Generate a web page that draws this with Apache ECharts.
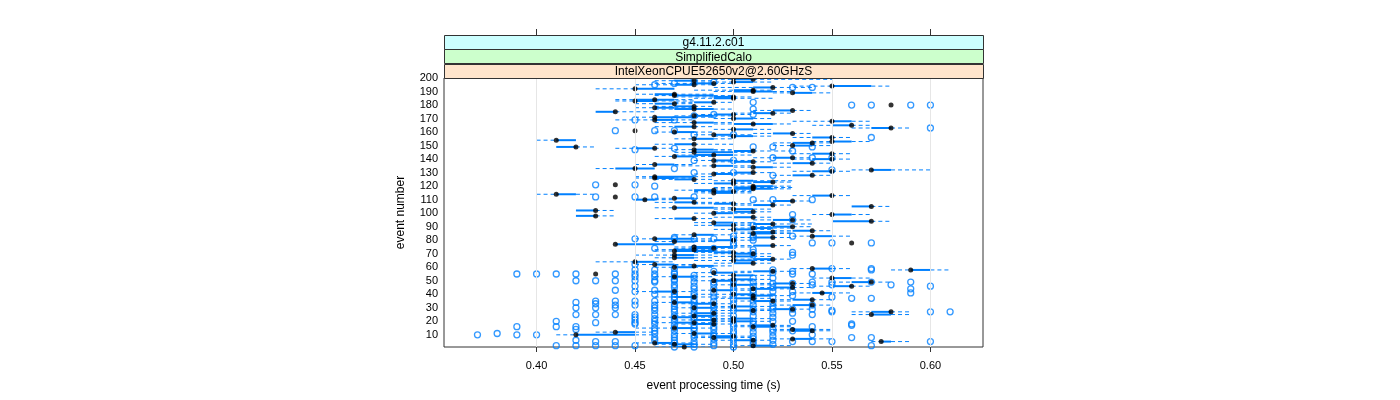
<!DOCTYPE html>
<html><head><meta charset="utf-8">
<script src="https://cdn.jsdelivr.net/npm/echarts@6/dist/echarts.min.js"></script>
<style>html,body{margin:0;padding:0;background:#fff}#c{width:1400px;height:400px}</style>
</head><body><div id="c"></div><script>
// event number = index + 1 (events 1..200)
const medians=[
.475,.51,.47,.46,.575,.51,.53,.49,.50,.42,
.48,.44,.54,.53,.47,.51,.52,.49,.48,.50,
.49,.50,.47,.48,.57,.49,.58,.51,.53,.48,
.50,.54,.49,.47,.52,.54,.51,.48,.51,.50,
.545,.47,.49,.51,.53,.56,.50,.53,.57,.49,
.50,.55,.47,.50,.43,.49,.52,.59,.54,.47,
.48,.46,.51,.45,.50,.52,.47,.50,.47,.51,
.50,.47,.48,.49,.48,.52,.44,.56,.47,.50,
.46,.52,.54,.48,.51,.52,.54,.50,.51,.53,
.50,.52,.49,.57,.53,.48,.51,.43,.55,.49,
.51,.43,.50,.47,.57,.52,.50,.48,.53,.455,
.47,.44,.55,.41,.49,.50,.49,.51,.51,.51,
.44,.50,.52,.50,.48,.46,.46,.54,.49,.51,
.55,.57,.45,.51,.49,.46,.54,.51,.49,.55,
.53,.47,.49,.55,.48,.51,.48,.46,.42,.53,
.48,.54,.55,.41,.48,.55,.50,.49,.53,.47,
.45,.50,.58,.48,.56,.51,.48,.55,.46,.50,
.46,.48,.50,.52,.44,.53,.48,.46,.48,.58,
.47,.49,.45,.46,.50,.50,.47,.47,.53,.51,
.51,.45,.52,.55,.48,.49,.50,.48,.51,.50];
const lowerQuartile=[
.47,.51,.47,.46,.575,.50,.53,.49,.49,.42,
.48,.44,.53,.53,.47,.51,.51,.48,.47,.50,
.48,.50,.47,.48,.57,.48,.57,.50,.52,.48,
.50,.53,.48,.47,.51,.53,.50,.47,.51,.50,
.54,.46,.49,.51,.52,.55,.50,.52,.56,.49,
.50,.55,.47,.50,.43,.49,.51,.59,.54,.47,
.48,.46,.50,.45,.50,.51,.47,.50,.47,.50,
.49,.47,.47,.48,.48,.51,.44,.56,.47,.49,
.46,.51,.54,.48,.51,.51,.53,.50,.51,.52,
.49,.51,.49,.55,.52,.47,.50,.42,.55,.49,
.50,.42,.50,.47,.56,.51,.49,.47,.52,.45,
.47,.44,.54,.41,.49,.49,.48,.50,.50,.51,
.44,.49,.51,.50,.47,.46,.46,.53,.49,.50,
.54,.57,.44,.51,.49,.46,.53,.50,.49,.54,
.52,.47,.48,.54,.48,.50,.48,.45,.41,.53,
.47,.53,.55,.41,.48,.54,.50,.49,.52,.47,
.45,.50,.57,.47,.55,.50,.48,.55,.46,.50,
.46,.48,.49,.51,.43,.52,.47,.46,.47,.58,
.46,.48,.45,.45,.49,.49,.47,.46,.53,.50,
.50,.45,.51,.55,.47,.48,.50,.47,.50,.49];
const upperQuartile=[
.48,.52,.48,.47,.58,.51,.54,.50,.50,.45,
.49,.45,.54,.54,.48,.52,.52,.49,.48,.51,
.49,.51,.48,.49,.58,.49,.58,.51,.53,.49,
.51,.54,.49,.48,.52,.54,.51,.48,.52,.51,
.55,.47,.50,.52,.53,.56,.51,.53,.57,.50,
.51,.56,.48,.51,.43,.50,.52,.60,.55,.48,
.49,.47,.51,.46,.51,.52,.48,.51,.48,.51,
.50,.49,.48,.49,.50,.52,.47,.56,.48,.50,
.48,.52,.55,.49,.52,.52,.54,.51,.52,.53,
.50,.52,.50,.57,.53,.48,.51,.43,.56,.50,
.51,.43,.51,.49,.57,.52,.50,.48,.53,.46,
.48,.44,.55,.42,.50,.50,.49,.52,.51,.52,
.44,.50,.52,.51,.48,.47,.48,.54,.50,.51,
.55,.58,.46,.52,.50,.47,.54,.51,.50,.55,
.53,.48,.50,.55,.50,.51,.49,.46,.42,.54,
.48,.54,.56,.42,.49,.55,.51,.50,.53,.48,
.45,.51,.58,.48,.56,.52,.49,.56,.47,.51,
.48,.49,.50,.52,.44,.53,.49,.47,.48,.58,
.47,.49,.46,.47,.50,.50,.49,.47,.54,.52,
.51,.47,.52,.57,.48,.49,.51,.48,.51,.51];
const lowerWhisker=[
.46,.50,.46,.45,.57,.49,.52,.48,.48,.41,
.47,.43,.52,.52,.45,.50,.50,.47,.46,.49,
.47,.49,.46,.47,.56,.47,.56,.49,.51,.47,
.49,.52,.47,.46,.50,.52,.49,.46,.50,.48,
.53,.45,.48,.50,.51,.54,.49,.51,.55,.48,
.49,.54,.46,.49,.43,.48,.50,.58,.53,.46,
.47,.45,.49,.43,.48,.50,.46,.49,.45,.49,
.48,.46,.46,.47,.47,.50,.44,.56,.46,.48,
.45,.50,.53,.47,.50,.50,.52,.49,.50,.51,
.48,.50,.48,.55,.51,.46,.49,.42,.54,.48,
.49,.42,.49,.46,.56,.50,.48,.46,.51,.45,
.46,.44,.53,.40,.48,.48,.47,.49,.49,.50,
.44,.48,.50,.49,.46,.45,.45,.52,.48,.49,
.53,.56,.43,.50,.47,.45,.52,.49,.48,.53,
.51,.46,.47,.53,.47,.49,.47,.44,.41,.52,
.46,.52,.54,.40,.47,.53,.49,.48,.51,.46,
.45,.49,.56,.46,.54,.49,.46,.53,.44,.49,
.45,.47,.48,.50,.43,.51,.46,.45,.46,.58,
.45,.47,.44,.44,.48,.47,.46,.45,.52,.49,
.48,.43,.49,.53,.45,.46,.48,.46,.49,.47];
const upperWhisker=[
.49,.53,.49,.48,.59,.52,.55,.51,.51,.46,
.50,.46,.55,.55,.49,.53,.53,.50,.49,.52,
.50,.52,.49,.50,.59,.50,.59,.52,.54,.50,
.52,.55,.50,.49,.53,.55,.52,.50,.53,.52,
.56,.48,.51,.53,.54,.57,.52,.54,.58,.51,
.52,.57,.49,.52,.43,.51,.53,.61,.56,.49,
.50,.48,.52,.47,.52,.53,.49,.52,.49,.52,
.51,.50,.49,.50,.51,.53,.47,.56,.49,.51,
.49,.53,.56,.50,.53,.53,.55,.52,.53,.54,
.51,.54,.51,.58,.54,.49,.52,.44,.57,.51,
.52,.44,.52,.50,.58,.53,.51,.50,.54,.47,
.49,.44,.56,.43,.51,.51,.51,.53,.53,.53,
.44,.51,.53,.53,.49,.48,.49,.55,.51,.52,
.56,.60,.46,.53,.51,.48,.55,.52,.51,.56,
.54,.49,.51,.56,.51,.53,.50,.47,.43,.55,
.50,.55,.57,.42,.50,.56,.52,.51,.54,.49,
.45,.52,.59,.49,.57,.53,.50,.57,.48,.52,
.49,.50,.51,.53,.46,.54,.50,.48,.49,.58,
.48,.50,.48,.48,.52,.51,.50,.49,.55,.53,
.52,.47,.54,.58,.49,.50,.52,.49,.55,.52];
// outliers: time value and the event numbers showing an open circle at it
const outlierTimes=[.37,.38,.39,.40,.41,.42,.43,.44,.45,.46,.47,.48,.49,.50,.51,.52,.53,.54,.55,.56,.57,.58,.59,.60,.61];
const outlierEvents=[
[10],[11],[55,16,10],[55,10],[55,20,16,2],
[55,50,34,30,25,16,14,6,2],
[121,112,50,35,33,30,25,19,5,2],
[161,55,50,43,35,32,30,25,5,2],
[169,147,121,112,81,62,58,55,53,50,46,42,35,32,25,23,21,19,18,2],
[195,161,120,112,74,58,55,53,50,49,43,40,35,32,30,28,25,22,20,18,15,13,11,8,6],
[196,169,161,148,133,82,81,59,56,55,53,51,50,47,45,42,40,38,36,33,31,29,27,24,22,20,17,15,13,10,8,6,4,1],
[198,172,158,139,130,112,81,74,54,52,49,46,44,41,39,36,34,31,29,26,23,21,17,15,13,10,8,5,3,1],
[197,173,81,74,57,49,47,44,41,38,35,32,30,27,24,22,19,16,14,11,9,7,4,2],
[158,139,130,83,81,78,76,50,47,45,42,39,36,33,30,28,24,21,18,16,13,11,8,6,3,1],
[182,177,173,149,110,91,83,82,80,73,71,69,52,49,46,43,41,38,35,32,29,27,24,20,18,15,12,9,7,5,3],
[149,141,128,110,58,56,52,48,45,42,38,34,31,29,26,23,20,14,12,9,6,3],
[193,146,99,95,83,71,69,57,55,48,42,39,29,26,20,13,5],
[193,149,141,110,78,55,49,47,32,29,25,16,10,5],
[141,132,78,59,49,47,38,28,27,5],
[180,37,18,17,8],
[180,156,78,59,58,49,37,8,2],
[47],
[180,49,44,41],
[180,163,46,27,5],
[27]];
const xTicks=[0.40,0.45,0.50,0.55,0.60];
const yTicks=[10,20,30,40,50,60,70,80,90,100,110,120,130,140,150,160,170,180,190,200];
const stripLabels=['g4.11.2.c01','SimplifiedCalo','IntelXeonCPUE52650v2@2.60GHzS'];
const stripColors=['#ccffff','#ccffcc','#ffe5cc'];

const FONT='"Liberation Sans", Arial, Helvetica, sans-serif';
const BLUE='#0080ff';
const boxData=medians.map((m,i)=>[i+1,m,lowerQuartile[i],upperQuartile[i],lowerWhisker[i],upperWhisker[i]]);
const medianData=medians.map((m,i)=>[m,i+1]);
const outlierData=[];
outlierTimes.forEach((t,k)=>outlierEvents[k].forEach(e=>outlierData.push([t,e])));

const GL=444,GT=78,GW=539,GH=269;
const graphics=[];
const stripTop=35, stripH=(GT-stripTop)/3;
stripLabels.forEach((s,i)=>{
  const y=stripTop+i*stripH;
  graphics.push({type:'rect',shape:{x:GL+0.5,y:Math.round(y)+0.5,width:GW,height:Math.round(stripH)},style:{fill:stripColors[i],stroke:'#333',lineWidth:1},z:10});
  graphics.push({type:'text',style:{text:s,x:GL+GW/2,y:y+stripH/2+1,align:'center',verticalAlign:'middle',font:'12px '+FONT,fill:'#000'},z:11});
});

const chart=echarts.init(document.getElementById('c'));
chart.setOption({
  animation:false,
  backgroundColor:'#fff',
  grid:{left:GL,top:GT,width:GW,height:GH,show:true,borderColor:'#333',borderWidth:1,backgroundColor:'transparent',containLabel:false},
  graphic:graphics,
  xAxis:[{
    type:'value',min:0.3530,max:0.6267,position:'bottom',
    name:'event processing time (s)',nameLocation:'middle',nameGap:33,
    nameTextStyle:{fontFamily:FONT,fontSize:12,color:'#000'},
    axisLine:{show:false},
    axisTick:{show:true,customValues:xTicks,length:5,lineStyle:{color:'#333'}},
    axisLabel:{customValues:xTicks,fontFamily:FONT,fontSize:11,color:'#000',margin:13,formatter:v=>v.toFixed(2)},
    splitLine:{show:false}
  },{
    type:'value',min:0.3530,max:0.6267,position:'top',offset:GT-stripTop,
    axisLine:{show:false},
    axisTick:{show:true,customValues:xTicks,length:6,lineStyle:{color:'#333'}},
    axisLabel:{show:false},splitLine:{show:false}
  }],
  yAxis:{
    type:'value',min:1,max:200,
    name:'event number',nameLocation:'middle',nameGap:37,nameRotate:90,
    nameTextStyle:{fontFamily:FONT,fontSize:12,color:'#000'},
    axisLine:{show:false},axisTick:{show:false},
    axisLabel:{customValues:yTicks,fontFamily:FONT,fontSize:11,color:'#000',margin:6},
    splitLine:{show:false}
  },
  series:[
    {type:'scatter',data:[],silent:true,z:1,
     markLine:{silent:true,symbol:'none',label:{show:false},lineStyle:{color:'#e6e6e6',type:'solid',width:1},
       data:xTicks.map(v=>({xAxis:v}))}},
    {type:'custom',data:boxData,encode:{x:1,y:0},clip:true,z:2,silent:true,
     renderItem:function(params,api){
       const e=api.value(0),q1=api.value(2),q3=api.value(3),lo=api.value(4),hi=api.value(5);
       const c=v=>api.coord([v,e]);
       const kids=[];
       const seg=(a,b,style)=>{const p=c(a),q=c(b);kids.push({type:'line',shape:{x1:p[0],y1:p[1],x2:q[0],y2:q[1]},style:style});};
       const dash={stroke:BLUE,lineWidth:1,lineDash:[4,3],fill:null};
       if(lo<q1) seg(lo,q1,dash);
       if(hi>q3) seg(q3,hi,dash);
       if(q3>q1) seg(q1,q3,{stroke:BLUE,lineWidth:2,fill:null});
       return {type:'group',children:kids};
     }},
    {type:'scatter',data:outlierData,symbol:'circle',symbolSize:6,z:3,silent:true,
     itemStyle:{color:'rgba(0,0,0,0)',borderColor:BLUE,borderWidth:1.3}},
    {type:'scatter',data:medianData,symbol:'circle',symbolSize:5,z:4,silent:true,
     itemStyle:{color:'#000'}}
  ]
});
</script></body></html>
